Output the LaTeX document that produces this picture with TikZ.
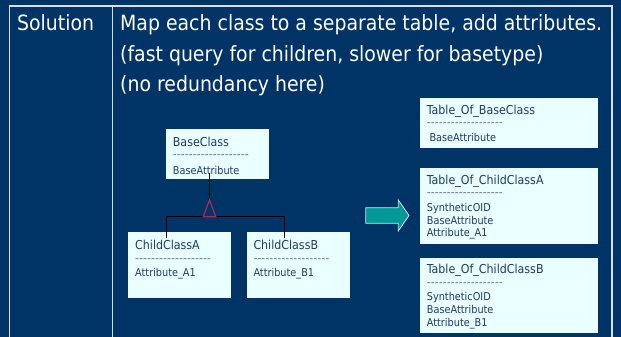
\documentclass[tikz,border=0pt]{standalone}
\usepackage{fontspec}
\setmainfont{DejaVu Sans Condensed}
\definecolor{bg}{RGB}{0,51,102}
\definecolor{frame}{RGB}{215,222,232}
\definecolor{boxfill}{RGB}{234,255,255}
\definecolor{boxtext}{RGB}{30,58,105}
\definecolor{dashcol}{RGB}{110,125,150}
\definecolor{inh}{RGB}{165,40,95}
\definecolor{teal}{RGB}{0,153,153}
\newcommand\hy{-\kern0pt}
\newcommand\dashrow{\hy\hy\hy\hy\hy\hy\hy\hy\hy\hy\hy\hy\hy\hy\hy\hy\hy\hy\hy}
\tikzset{
  frameline/.style={draw=frame, line width=1.3pt},
  maintext/.style={anchor=base west, inner sep=0pt, text=white, font=\fontsize{21}{24}\selectfont},
  umlbox/.style={fill=boxfill, draw=none, anchor=north west, inner sep=0pt},
  titletext/.style={anchor=base west, inner sep=0pt, text=boxtext, font=\fontsize{12.3}{14}\selectfont},
  attrtext/.style={anchor=base west, inner sep=0pt, text=boxtext, font=\fontsize{10.8}{13}\selectfont},
  dashtext/.style={anchor=base west, inner sep=0pt, text=dashcol, font=\fontsize{12.3}{13}\selectfont},
  conn/.style={draw=black, line width=1pt},
  inhtri/.style={draw=inh, line width=1.3pt, line join=miter},
}
\begin{document}
\begin{tikzpicture}[x=1pt,y=-1pt]
\fill[bg] (0,0) rectangle (621,337);
\useasboundingbox (0,0) rectangle (621,337);
% frame
\draw[frameline] (9.7,337) -- (9.7,6) -- (612,6) -- (612,337);
\draw[frameline] (112.7,6) -- (112.7,337);
% header texts
\node[maintext] (sol) at (17,30.7) {Solution};
\node[maintext] (l1) at (120,30.7) {Map each class to a separate table, add attributes.};
\node[maintext] (l2) at (120,61.3) {(fast query for children, slower for basetype)};
\node[maintext] (l3) at (120,92) {(no redundancy here)};
% class boxes
\node[umlbox, minimum width=103pt, minimum height=50pt] (base) at (166,129) {};
\node[titletext] (baseT) at (172.7,146) {BaseClass};
\node[dashtext] (baseD) at (172.7,158) {\dashrow};
\node[attrtext] (baseA) at (172.7,174) {BaseAttribute};
\node[umlbox, minimum width=103pt, minimum height=65.7pt] (chA) at (128,232) {};
\node[titletext] (chAT) at (135,249.3) {ChildClassA};
\node[dashtext] (chAD) at (135,262) {\dashrow};
\node[attrtext] (chAA) at (135,276) {Attribute\_A1};
\node[umlbox, minimum width=103pt, minimum height=65.7pt] (chB) at (247,232) {};
\node[titletext] (chBT) at (253.3,249.3) {ChildClassB};
\node[dashtext] (chBD) at (253.3,262) {\dashrow};
\node[attrtext] (chBA) at (253.3,276) {Attribute\_B1};
% inheritance connectors
\coordinate (bstart) at (209.5,173);
\coordinate (apex) at (209.5,200);
\coordinate (tl) at (203.3,216.7);
\coordinate (tr) at (215.7,216.7);
\coordinate (jA) at (166.7,216.7);
\coordinate (jB) at (284.5,216.7);
\coordinate (eA) at (166.7,238);
\coordinate (eB) at (284.5,238);
\draw[conn] (bstart) -- (apex);
\draw[conn] (eA) -- (jA) -- (jB) -- (eB);
\draw[inhtri] (apex) -- (tr) -- (tl) -- cycle;
% block arrow
\coordinate (a1) at (365.7,207.7);
\coordinate (a2) at (398.3,207.7);
\coordinate (a3) at (398.3,200);
\coordinate (a4) at (409,215.5);
\coordinate (a5) at (398.3,231);
\coordinate (a6) at (398.3,223.3);
\coordinate (a7) at (365.7,223.3);
\draw[fill=teal, draw=frame, line width=0.8pt] (a1) -- (a2) -- (a3) -- (a4) -- (a5) -- (a6) -- (a7) -- cycle;
% tables
\node[umlbox, minimum width=177.7pt, minimum height=49.3pt] (tb) at (420,98) {};
\node[titletext] (tbT) at (426.7,114) {Table\_Of\_BaseClass};
\node[dashtext] (tbD) at (426.7,126.5) {\dashrow};
\node[attrtext] (tbA) at (429.3,141) {BaseAttribute};
\node[umlbox, minimum width=178pt, minimum height=75.3pt] (ta) at (420,168) {};
\node[titletext] (taT) at (426.7,184) {Table\_Of\_ChildClassA};
\node[dashtext] (taD) at (426.7,196.5) {\dashrow};
\node[attrtext] (ta1) at (426.7,211) {SyntheticOID};
\node[attrtext] (ta2) at (426.7,224) {BaseAttribute};
\node[attrtext] (ta3) at (426.7,236.7) {Attribute\_A1};
\node[umlbox, minimum width=178pt, minimum height=75pt] (tbb) at (420,257.3) {};
\node[titletext] (tbbT) at (426.7,273.3) {Table\_Of\_ChildClassB};
\node[dashtext] (tbbD) at (426.7,286.5) {\dashrow};
\node[attrtext] (tbb1) at (426.7,300) {SyntheticOID};
\node[attrtext] (tbb2) at (426.7,313.3) {BaseAttribute};
\node[attrtext] (tbb3) at (426.7,326) {Attribute\_B1};
\end{tikzpicture}
\end{document}
